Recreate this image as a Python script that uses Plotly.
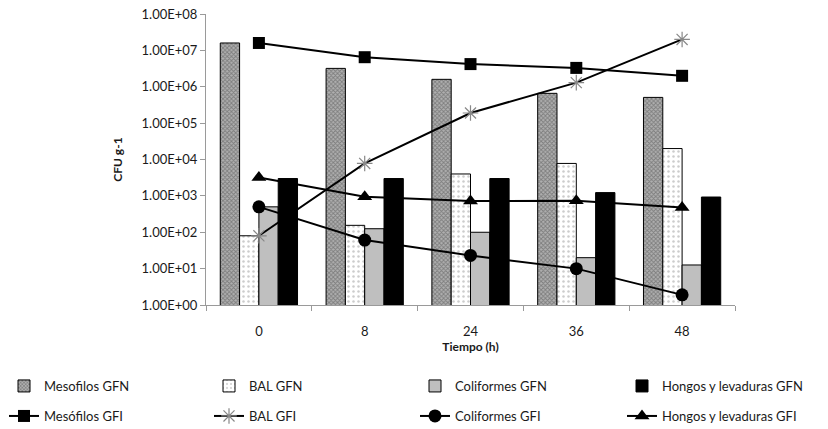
import plotly.graph_objects as go

tiempo = ["0", "8", "24", "36", "48"]

mesofilos_gfn = [1.6e7, 3.2e6, 1.6e6, 6.6e5, 5.1e5]
bal_gfn = [80, 155, 4.0e3, 7.8e3, 2.0e4]
coliformes_gfn = [500, 125, 100, 20, 12.6]
hongos_gfn = [3000, 3000, 3000, 1230, 930]

mesofilos_gfi = [1.6e7, 6.5e6, 4.2e6, 3.3e6, 2.0e6]
bal_gfi = [80, 7.8e3, 1.9e5, 1.3e6, 2.0e7]
coliformes_gfi = [500, 61, 23, 10, 1.9]
hongos_gfi = [3200, 950, 720, 740, 480]

y_tickvals = [1, 10, 100, 1e3, 1e4, 1e5, 1e6, 1e7, 1e8]
y_ticktext = ["1.00E+00", "1.00E+01", "1.00E+02", "1.00E+03", "1.00E+04",
              "1.00E+05", "1.00E+06", "1.00E+07", "1.00E+08"]

FONT = "Lato"
NARROW = "Liberation Sans Narrow, Lato"
fig = go.Figure()

bar_line = dict(color="black", width=1)
fig.add_trace(go.Bar(
    x=tiempo, y=mesofilos_gfn, name="Mesofilos GFN", legend="legend",
    marker=dict(color="#a0a0a0", line=bar_line,
                pattern=dict(shape="x", size=3, solidity=0.5, fgcolor="#4a4a4a", bgcolor="#b0b0b0")),
))
fig.add_trace(go.Bar(
    x=tiempo, y=bal_gfn, name="BAL GFN", legend="legend2",
    marker=dict(color="white", line=bar_line,
                pattern=dict(shape=".", size=5, solidity=0.2, fgcolor="#9a9a9a", bgcolor="white")),
))
fig.add_trace(go.Bar(
    x=tiempo, y=coliformes_gfn, name="Coliformes GFN", legend="legend3",
    marker=dict(color="#bfbfbf", line=bar_line),
))
fig.add_trace(go.Bar(
    x=tiempo, y=hongos_gfn, name="Hongos y levaduras GFN", legend="legend4",
    marker=dict(color="black", line=bar_line),
))

line = dict(color="black", width=2)
fig.add_trace(go.Scatter(
    x=tiempo, y=mesofilos_gfi, name="Mesófilos GFI", mode="lines+markers", legend="legend5",
    line=line, marker=dict(symbol="square", size=12, color="black"),
))
fig.add_trace(go.Scatter(
    x=tiempo, y=bal_gfi, name="BAL GFI", mode="lines+markers", legend="legend6",
    line=line, marker=dict(symbol="asterisk-open", size=13, color="#888888", line=dict(width=1.2, color="#888888")),
))
fig.add_trace(go.Scatter(
    x=tiempo, y=coliformes_gfi, name="Coliformes GFI", mode="lines+markers", legend="legend7",
    line=line, marker=dict(symbol="circle", size=13, color="black"),
))
fig.add_trace(go.Scatter(
    x=tiempo, y=hongos_gfi, name="Hongos y levaduras GFI", mode="lines+markers", legend="legend8",
    line=line, marker=dict(symbol="triangle-up", size=13, color="black"),
))

# page body adds an 8px offset; work in screen pixels
OFF = 8
W, H = 828 - OFF, 429 - OFF
plot_left, plot_right, plot_top, plot_bottom = 206, 735, 14, 305
ml = plot_left - OFF
mt = plot_top - OFF
mr = W - (plot_right - OFF)
mb = H - (plot_bottom - OFF)
pw = plot_right - plot_left
ph = plot_bottom - plot_top

def sx(p):
    return (p - plot_left) / pw

def sy(p):
    return (plot_bottom - p) / ph

legend_common = dict(
    orientation="v", xanchor="left", yanchor="middle", visible=True,
    font=dict(family=FONT, size=13, color="#1a1a1a"),
    bgcolor="rgba(0,0,0,0)", borderwidth=0,
)

text_x = [45, 250, 456, 663]
row_y = [386, 416]
legends = {}
k = 1
for r in row_y:
    for tx in text_x:
        key = "legend" if k == 1 else f"legend{k}"
        legends[key] = dict(x=sx(tx - 41), y=sy(r), **legend_common)
        k += 1

fig.update_layout(
    width=W, height=H, showlegend=True,
    margin=dict(l=ml, r=mr, t=mt, b=mb, autoexpand=False),
    paper_bgcolor="white", plot_bgcolor="white",
    barmode="group", bargap=0.27, bargroupgap=0,
    font=dict(family=FONT, size=12, color="#1a1a1a"),
    xaxis=dict(
        type="category", showline=True, linecolor="#9a9a9a", linewidth=1,
        ticks="outside", tickson="boundaries", ticklen=5, tickcolor="#9a9a9a",
        showgrid=False, ticklabelstandoff=14,
        tickfont=dict(family=FONT, size=13, color="#1a1a1a"),
        title=dict(text="<b>Tiempo (h)</b>", standoff=3,
                   font=dict(family=FONT, size=12, color="#1a1a1a")),
    ),
    yaxis=dict(
        type="log", range=[0, 8.0005], showline=True, linecolor="#9a9a9a", linewidth=1,
        ticks="outside", ticklen=5, tickcolor="#9a9a9a", showgrid=False,
        tickvals=y_tickvals, ticktext=y_ticktext, zeroline=False,
        ticklabeloverflow="allow",
        tickfont=dict(family=NARROW, size=13, color="#1a1a1a"),
        title=dict(text="<b>CFU g-1</b>", standoff=16,
                   font=dict(family=FONT, size=12, color="#1a1a1a")),
    ),
    **legends,
)

fig.write_html("out.html")
